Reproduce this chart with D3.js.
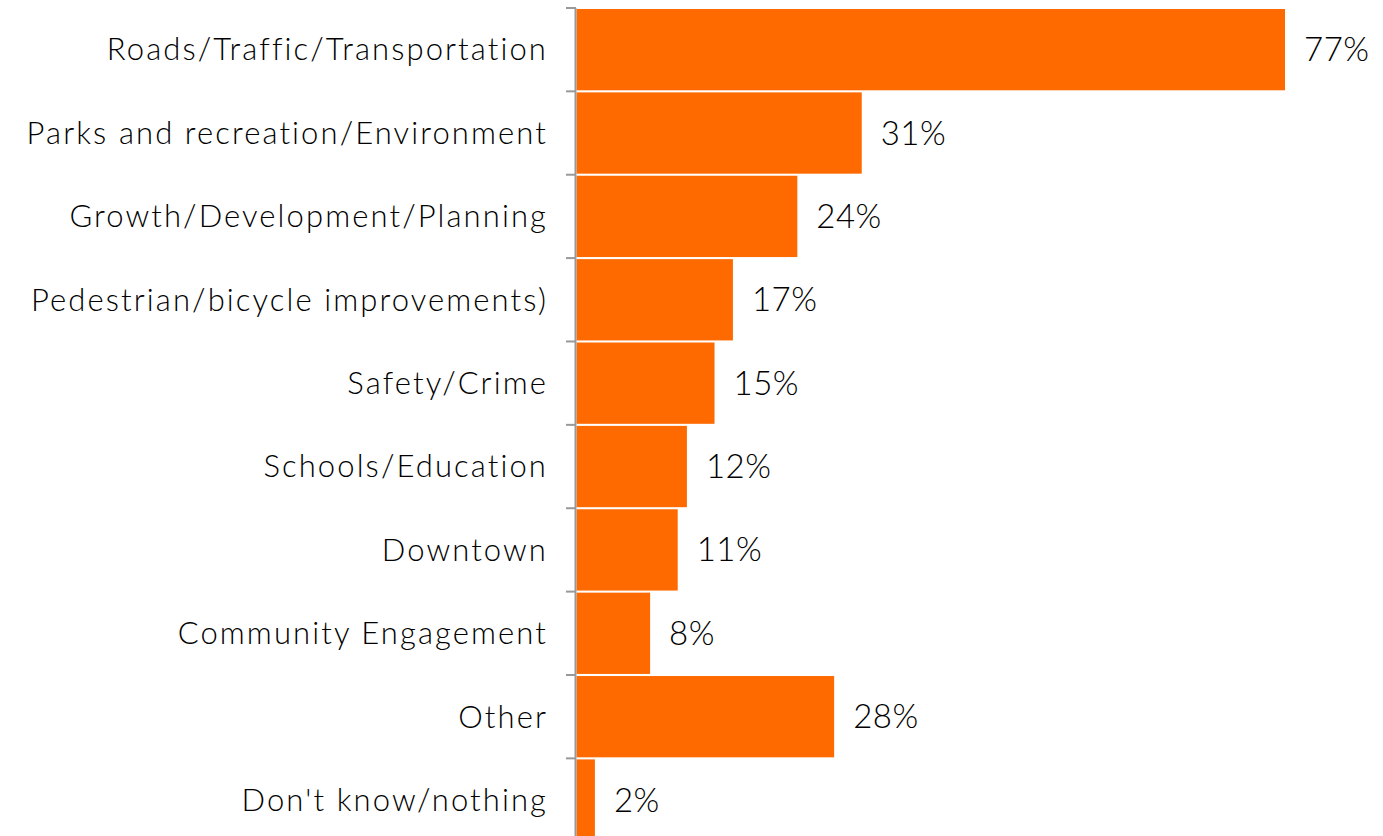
<!DOCTYPE html>
<html>
<head>
<meta charset="utf-8">
<script src="https://cdn.jsdelivr.net/npm/d3@7"></script>
<style>
  body { margin: 0; background: #fff; }
  svg text { font-family: "Lato", "DejaVu Sans", sans-serif; fill: #000; font-weight: 300; }
</style>
</head>
<body>
<div id="chart"></div>
<script>
var categories = ["Roads/Traffic/Transportation", "Parks and recreation/Environment",
  "Growth/Development/Planning", "Pedestrian/bicycle improvements)", "Safety/Crime",
  "Schools/Education", "Downtown", "Community Engagement", "Other", "Don't know/nothing"];
var values = [77, 31, 24, 17, 15, 12, 11, 8, 28, 2];
var valueLabels = ["77%", "31%", "24%", "17%", "15%", "12%", "11%", "8%", "28%", "2%"];

var width = 1383, height = 836;
var svg = d3.select("#chart").append("svg")
  .attr("width", width)
  .attr("height", height);

var x = d3.scaleLinear().domain([0, 77]).range([576.5, 1285]);
var y = d3.scaleBand().domain(categories).range([8, 841.7]).paddingInner(0.025).paddingOuter(0.012);

// bars
svg.selectAll("rect.bar")
  .data(values)
  .enter().append("rect")
  .attr("class", "bar")
  .attr("x", x(0))
  .attr("y", function(d, i) { return y(categories[i]); })
  .attr("width", function(d) { return x(d) - x(0); })
  .attr("height", y.bandwidth())
  .attr("fill", "#ff6a00");

// axis line with ticks at band boundaries
var axis = svg.append("g");
axis.append("line")
  .attr("x1", 575.5).attr("x2", 575.5)
  .attr("y1", 8).attr("y2", 841.7)
  .attr("stroke", "#999").attr("stroke-width", 2);
var bounds = categories.map(function(c) { return y(c) - y.step() * y.paddingInner() / 2; });
bounds[0] = 8;
axis.selectAll("line.tick")
  .data(bounds)
  .enter().append("line")
  .attr("class", "tick")
  .attr("x1", 566).attr("x2", 576)
  .attr("y1", function(d) { return d; })
  .attr("y2", function(d) { return d; })
  .attr("stroke", "#999").attr("stroke-width", 2);

// category labels
svg.selectAll("text.cat")
  .data(categories)
  .enter().append("text")
  .attr("class", "cat")
  .attr("x", 548)
  .attr("y", function(d) { return y(d) + y.bandwidth() / 2; })
  .attr("dy", "0.35em")
  .attr("text-anchor", "end")
  .style("font-size", "31px")
  .style("letter-spacing", "2.1px")
  .text(function(d) { return d; });

// value labels
svg.selectAll("text.val")
  .data(values)
  .enter().append("text")
  .attr("class", "val")
  .attr("x", function(d) { return x(d) + 19; })
  .attr("y", function(d, i) { return y(categories[i]) + y.bandwidth() / 2; })
  .attr("dy", "0.35em")
  .style("font-size", "33px")
  .style("letter-spacing", "0.5px")
  .text(function(d, i) { return valueLabels[i]; });
</script>
</body>
</html>
